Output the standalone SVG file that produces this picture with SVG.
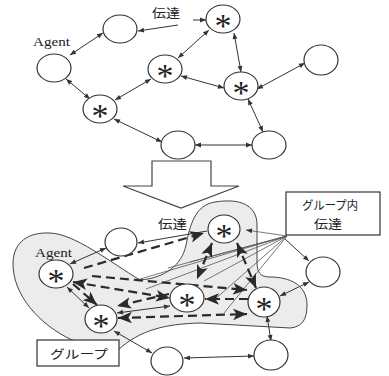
<svg xmlns="http://www.w3.org/2000/svg" width="389" height="376" viewBox="0 0 389 376">
<defs>
<style>
.nd{fill:#fff;stroke:#333;stroke-width:1.2}
.st{font-family:"Liberation Serif",serif;font-size:34px;fill:#222;text-anchor:middle}
.lb{font-family:"Liberation Serif",serif;font-size:13px;fill:#222}
.jp{font-family:"Noto Sans CJK JP",sans-serif;font-size:12px;fill:#222}
.th{fill:none;stroke:#333;stroke-width:1}
.dd{fill:none;stroke:#2a2a2a;stroke-width:2.2;stroke-dasharray:9 5}
.fan{fill:none;stroke:#555;stroke-width:0.8}
.box{fill:#fff;stroke:#333;stroke-width:1.2}
</style>
<marker id="a" viewBox="0 0 10 10" refX="10" refY="5" markerWidth="7" markerHeight="6" markerUnits="userSpaceOnUse" orient="auto-start-reverse"><path d="M0,1 L10,5 L0,9 z" fill="#333"/></marker>
<marker id="b" viewBox="0 0 12 10" refX="12" refY="5" markerWidth="14" markerHeight="12" markerUnits="userSpaceOnUse" orient="auto-start-reverse"><path d="M0,0 L12,5 L0,10 L3,5 z" fill="#2a2a2a"/></marker>
</defs>
<rect width="389" height="376" fill="#fff"/>

<g id="group-region">
<path d="M72,340 C40,325 12,295 13,262 C14,242 28,232 50,233 C75,234 110,262 140,280 C165,278 182,265 186,245 C190,225 195,205 215,202 C240,198 257,205 257,225 L257,262 C257,272 260,277 270,277 C290,277 307,285 307,305 C307,320 302,327 290,328 L200,323 C165,324 140,330 118,350 Z" fill="#ececec" stroke="#444" stroke-width="1"/>
</g>

<g id="big-arrow">
<path d="M152,161 L211,161 L211,186 L239,186 L181,208 L123,186 L152,186 Z" fill="#fff" stroke="#444" stroke-width="1.2"/>
</g>

<g id="connectors">
<line class="th" x1="178" y1="25" x2="138" y2="31" marker-end="url(#a)"/>
<line class="th" x1="193" y1="20" x2="206" y2="20" marker-end="url(#a)"/>
<line class="th" x1="103" y1="33" x2="70" y2="55" marker-start="url(#a)" marker-end="url(#a)"/>
<line class="th" x1="66" y1="79" x2="90" y2="99" marker-start="url(#a)" marker-end="url(#a)"/>
<line class="th" x1="151" y1="79" x2="115" y2="100" marker-start="url(#a)" marker-end="url(#a)"/>
<line class="th" x1="114" y1="119" x2="162" y2="142" marker-start="url(#a)" marker-end="url(#a)"/>
<line class="th" x1="209" y1="30" x2="178" y2="58" marker-start="url(#a)" marker-end="url(#a)"/>
<line class="th" x1="181" y1="76" x2="224" y2="88" marker-start="url(#a)" marker-end="url(#a)"/>
<line class="th" x1="234" y1="33" x2="241" y2="72" marker-start="url(#a)" marker-end="url(#a)"/>
<line class="th" x1="257" y1="89" x2="305" y2="63" marker-start="url(#a)" marker-end="url(#a)"/>
<line class="th" x1="248" y1="99" x2="263" y2="132" marker-start="url(#a)" marker-end="url(#a)"/>
<line class="th" x1="195" y1="145" x2="252" y2="145" marker-start="url(#a)" marker-end="url(#a)"/>

<line class="th" x1="106" y1="248" x2="70" y2="264" marker-start="url(#a)" marker-end="url(#a)"/>
<line class="th" x1="67" y1="287" x2="89" y2="308" marker-start="url(#a)" marker-end="url(#a)"/>
<line class="th" x1="114" y1="331" x2="152" y2="353" marker-start="url(#a)" marker-end="url(#a)"/>
<line class="th" x1="184" y1="358" x2="254" y2="356" marker-start="url(#a)" marker-end="url(#a)"/>
<line class="th" x1="267" y1="316" x2="271" y2="341" marker-start="url(#a)" marker-end="url(#a)"/>
<line class="th" x1="280" y1="296" x2="309" y2="282" marker-start="url(#a)" marker-end="url(#a)"/>
<line class="th" x1="285" y1="239" x2="309" y2="261" marker-end="url(#a)"/>
<line class="th" x1="207" y1="231" x2="138" y2="243" marker-end="url(#a)"/>
<line class="th" x1="117" y1="313" x2="170" y2="306" marker-start="url(#a)" marker-end="url(#a)"/>

<line class="fan" x1="287" y1="236" x2="246" y2="230" marker-end="url(#a)"/>
<line class="fan" x1="287" y1="236" x2="140" y2="279"/>
<line class="fan" x1="287" y1="236" x2="146" y2="289"/>
<line class="fan" x1="287" y1="236" x2="168" y2="268"/>
<line class="fan" x1="287" y1="236" x2="190" y2="262"/>
<line class="fan" x1="287" y1="236" x2="204" y2="281"/>
<line class="fan" x1="287" y1="236" x2="214" y2="300"/>
<line class="fan" x1="287" y1="236" x2="224" y2="313"/>

<line class="dd" x1="84" y1="268" x2="204" y2="233" marker-end="url(#b)"/>
<line class="dd" x1="73" y1="282" x2="170" y2="298" marker-start="url(#b)" marker-end="url(#b)"/>
<line class="dd" x1="92" y1="276" x2="247" y2="290" marker-end="url(#b)"/>
<line class="dd" x1="212" y1="243" x2="197" y2="279" marker-start="url(#b)" marker-end="url(#b)"/>
<line class="dd" x1="237" y1="243" x2="256" y2="288" marker-start="url(#b)" marker-end="url(#b)"/>
<line class="dd" x1="248" y1="299" x2="205" y2="299" marker-end="url(#b)"/>
<line class="dd" x1="118" y1="318" x2="247" y2="314" marker-start="url(#b)" marker-end="url(#b)"/>
<line class="dd" x1="169" y1="294" x2="117" y2="306" marker-end="url(#b)"/>
<line class="dd" x1="73" y1="284" x2="97" y2="305" marker-end="url(#b)"/>
</g>

<g id="n-top-1"><ellipse class="nd" cx="120" cy="29" rx="17" ry="14"/></g>
<g id="agent-top"><ellipse class="nd" cx="54" cy="68" rx="17" ry="14"/><text class="lb" x="33" y="46" textLength="37" lengthAdjust="spacingAndGlyphs">Agent</text></g>
<g id="s-top-1"><ellipse class="nd" cx="165" cy="69" rx="17" ry="14"/><text class="st" x="165" y="87">*</text></g>
<g id="s-top-2"><ellipse class="nd" cx="100" cy="109" rx="17" ry="14"/><text class="st" x="100" y="127">*</text></g>
<g id="n-top-2"><ellipse class="nd" cx="178" cy="145" rx="17" ry="14"/></g>
<g id="s-top-3"><ellipse class="nd" cx="223" cy="19" rx="17" ry="14"/><text class="st" x="223" y="37">*</text></g>
<g id="s-top-4"><ellipse class="nd" cx="241" cy="86" rx="17" ry="14"/><text class="st" x="241" y="104">*</text></g>
<g id="n-top-3"><ellipse class="nd" cx="321" cy="60" rx="17" ry="15"/></g>
<g id="n-top-4"><ellipse class="nd" cx="269" cy="145" rx="17" ry="14"/></g>
<g id="label-top"><text class="jp" x="152" y="18" font-size="13" textLength="28" lengthAdjust="spacingAndGlyphs">伝達</text></g>

<g id="n-bot-1"><ellipse class="nd" cx="121" cy="242" rx="16" ry="14"/></g>
<g id="agent-bot"><ellipse class="nd" cx="56" cy="274" rx="17" ry="14"/><text class="st" x="56" y="292">*</text><text class="lb" x="35" y="257" textLength="37" lengthAdjust="spacingAndGlyphs">Agent</text></g>
<g id="s-bot-1"><ellipse class="nd" cx="224" cy="229" rx="16" ry="14"/><text class="st" x="224" y="247">*</text></g>
<g id="s-bot-2"><ellipse class="nd" cx="187" cy="298" rx="17" ry="14"/><text class="st" x="187" y="316">*</text></g>
<g id="s-bot-3"><ellipse class="nd" cx="101" cy="319" rx="16" ry="14"/><text class="st" x="101" y="337">*</text></g>
<g id="s-bot-4"><ellipse class="nd" cx="264" cy="302" rx="16" ry="15"/><text class="st" x="264" y="320">*</text></g>
<g id="n-bot-2"><ellipse class="nd" cx="323" cy="272" rx="17" ry="15"/></g>
<g id="n-bot-3"><ellipse class="nd" cx="271" cy="355" rx="17" ry="15"/></g>
<g id="n-bot-4"><ellipse class="nd" cx="167" cy="361" rx="16" ry="14"/></g>
<g id="label-bot"><text class="jp" x="158" y="229" font-size="13" textLength="29" lengthAdjust="spacingAndGlyphs">伝達</text></g>

<g id="box-intra">
<rect class="box" x="286" y="192" width="94" height="43"/>
<text class="jp" x="302" y="210" textLength="56" lengthAdjust="spacingAndGlyphs">グループ内</text>
<text class="jp" x="314" y="229" textLength="28" lengthAdjust="spacingAndGlyphs">伝達</text>
</g>
<g id="box-group">
<rect class="box" x="37" y="340" width="82" height="26"/>
<text class="jp" x="50" y="359" font-size="14" textLength="58" lengthAdjust="spacingAndGlyphs">グループ</text>
</g>
</svg>
